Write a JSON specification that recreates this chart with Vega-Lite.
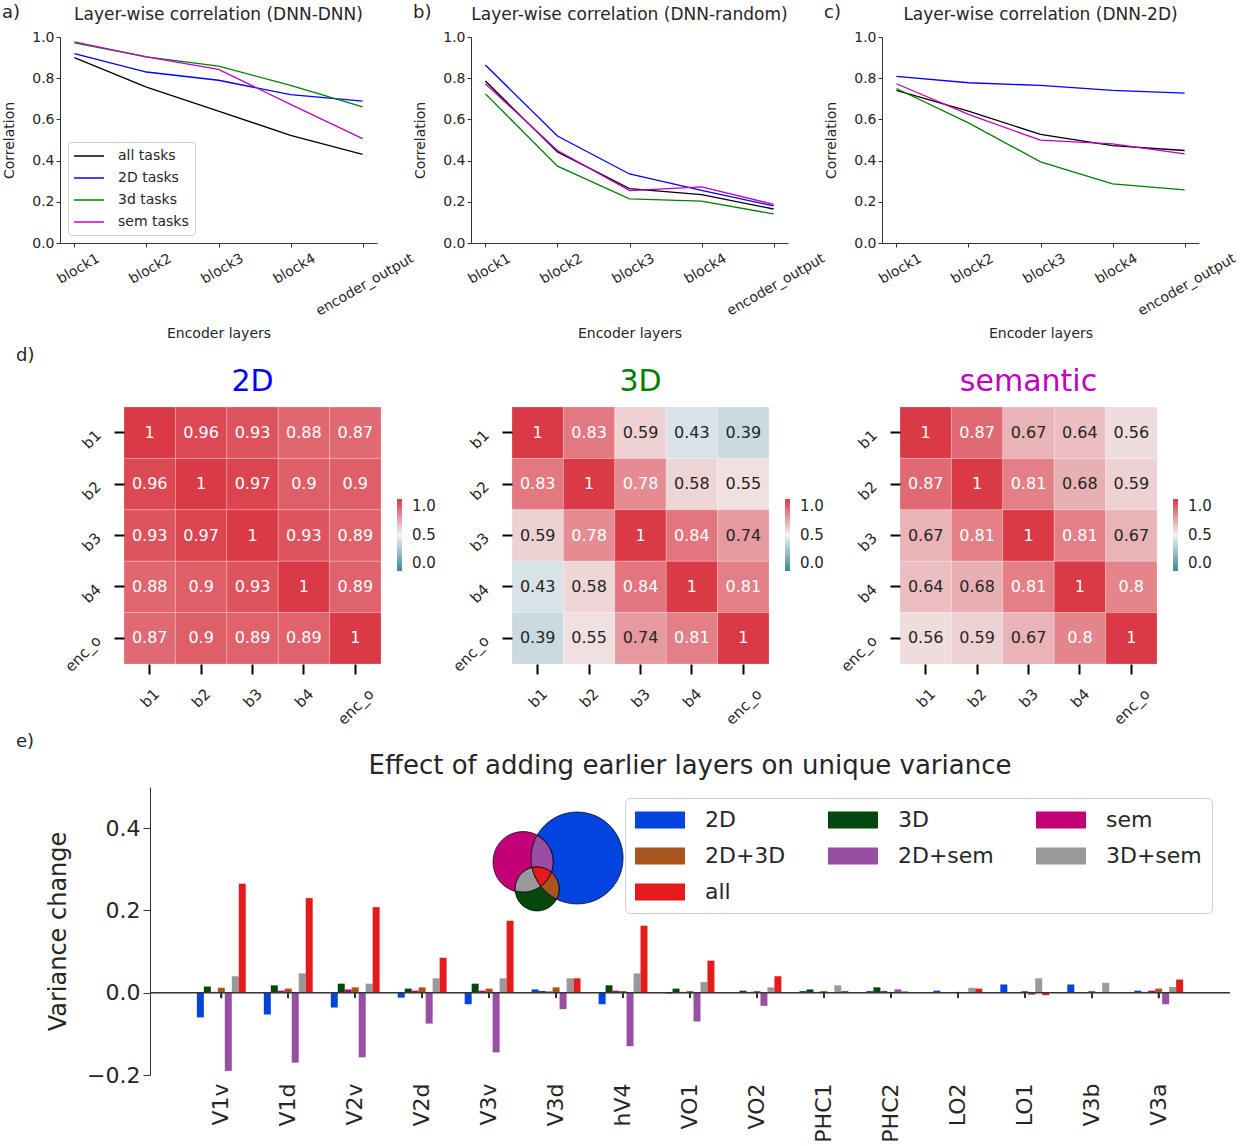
{
"$schema": "https://vega.github.io/schema/vega-lite/v6.json",
"background": "white",
"padding": {"left": 2, "top": 4, "right": 2, "bottom": 2},
"spacing": 5,
"resolve": {"scale": {"color": "independent", "shape": "independent", "fill": "independent"}, "legend": {"color": "independent"}},
"config": {
 "font": "DejaVu Sans",
 "view": {"stroke": null},
 "axis": {"grid": false, "labelColor": "#262626", "titleColor": "#262626", "domainColor": "#333333", "tickColor": "#333333", "titleFontWeight": "normal", "labelFont": "DejaVu Sans", "titleFont": "DejaVu Sans"},
 "title": {"fontWeight": "normal", "color": "#262626", "font": "DejaVu Sans"},
 "legend": {"labelColor": "#262626", "labelFont": "DejaVu Sans"}
},
"datasets": {
 "lineA": [
  {"layer":"block1","series":"all tasks","r":0.90},{"layer":"block2","series":"all tasks","r":0.757},{"layer":"block3","series":"all tasks","r":0.64},{"layer":"block4","series":"all tasks","r":0.523},{"layer":"encoder_output","series":"all tasks","r":0.43},
  {"layer":"block1","series":"2D tasks","r":0.919},{"layer":"block2","series":"2D tasks","r":0.83},{"layer":"block3","series":"2D tasks","r":0.79},{"layer":"block4","series":"2D tasks","r":0.72},{"layer":"encoder_output","series":"2D tasks","r":0.689},
  {"layer":"block1","series":"3d tasks","r":0.972},{"layer":"block2","series":"3d tasks","r":0.903},{"layer":"block3","series":"3d tasks","r":0.859},{"layer":"block4","series":"3d tasks","r":0.765},{"layer":"encoder_output","series":"3d tasks","r":0.661},
  {"layer":"block1","series":"sem tasks","r":0.976},{"layer":"block2","series":"sem tasks","r":0.904},{"layer":"block3","series":"sem tasks","r":0.843},{"layer":"block4","series":"sem tasks","r":0.673},{"layer":"encoder_output","series":"sem tasks","r":0.507}
 ],
 "lineB": [
  {"layer":"block1","series":"all tasks","r":0.786},{"layer":"block2","series":"all tasks","r":0.442},{"layer":"block3","series":"all tasks","r":0.264},{"layer":"block4","series":"all tasks","r":0.235},{"layer":"encoder_output","series":"all tasks","r":0.165},
  {"layer":"block1","series":"2D tasks","r":0.864},{"layer":"block2","series":"2D tasks","r":0.519},{"layer":"block3","series":"2D tasks","r":0.335},{"layer":"block4","series":"2D tasks","r":0.256},{"layer":"encoder_output","series":"2D tasks","r":0.18},
  {"layer":"block1","series":"3d tasks","r":0.724},{"layer":"block2","series":"3d tasks","r":0.373},{"layer":"block3","series":"3d tasks","r":0.214},{"layer":"block4","series":"3d tasks","r":0.203},{"layer":"encoder_output","series":"3d tasks","r":0.141},
  {"layer":"block1","series":"sem tasks","r":0.773},{"layer":"block2","series":"sem tasks","r":0.449},{"layer":"block3","series":"sem tasks","r":0.254},{"layer":"block4","series":"sem tasks","r":0.272},{"layer":"encoder_output","series":"sem tasks","r":0.188}
 ],
 "lineC": [
  {"layer":"block1","series":"all tasks","r":0.741},{"layer":"block2","series":"all tasks","r":0.64},{"layer":"block3","series":"all tasks","r":0.527},{"layer":"block4","series":"all tasks","r":0.473},{"layer":"encoder_output","series":"all tasks","r":0.449},
  {"layer":"block1","series":"2D tasks","r":0.809},{"layer":"block2","series":"2D tasks","r":0.778},{"layer":"block3","series":"2D tasks","r":0.765},{"layer":"block4","series":"2D tasks","r":0.741},{"layer":"encoder_output","series":"2D tasks","r":0.728},
  {"layer":"block1","series":"3d tasks","r":0.75},{"layer":"block2","series":"3d tasks","r":0.583},{"layer":"block3","series":"3d tasks","r":0.394},{"layer":"block4","series":"3d tasks","r":0.287},{"layer":"encoder_output","series":"3d tasks","r":0.258},
  {"layer":"block1","series":"sem tasks","r":0.773},{"layer":"block2","series":"sem tasks","r":0.624},{"layer":"block3","series":"sem tasks","r":0.499},{"layer":"block4","series":"sem tasks","r":0.481},{"layer":"encoder_output","series":"sem tasks","r":0.433}
 ],
 "hm2D": [
  {"r":"b1","c":"b1","v":1},{"r":"b1","c":"b2","v":0.96},{"r":"b1","c":"b3","v":0.93},{"r":"b1","c":"b4","v":0.88},{"r":"b1","c":"enc_o","v":0.87},
  {"r":"b2","c":"b1","v":0.96},{"r":"b2","c":"b2","v":1},{"r":"b2","c":"b3","v":0.97},{"r":"b2","c":"b4","v":0.9},{"r":"b2","c":"enc_o","v":0.9},
  {"r":"b3","c":"b1","v":0.93},{"r":"b3","c":"b2","v":0.97},{"r":"b3","c":"b3","v":1},{"r":"b3","c":"b4","v":0.93},{"r":"b3","c":"enc_o","v":0.89},
  {"r":"b4","c":"b1","v":0.88},{"r":"b4","c":"b2","v":0.9},{"r":"b4","c":"b3","v":0.93},{"r":"b4","c":"b4","v":1},{"r":"b4","c":"enc_o","v":0.89},
  {"r":"enc_o","c":"b1","v":0.87},{"r":"enc_o","c":"b2","v":0.9},{"r":"enc_o","c":"b3","v":0.89},{"r":"enc_o","c":"b4","v":0.89},{"r":"enc_o","c":"enc_o","v":1}
 ],
 "hm3D": [
  {"r":"b1","c":"b1","v":1},{"r":"b1","c":"b2","v":0.83},{"r":"b1","c":"b3","v":0.59},{"r":"b1","c":"b4","v":0.43},{"r":"b1","c":"enc_o","v":0.39},
  {"r":"b2","c":"b1","v":0.83},{"r":"b2","c":"b2","v":1},{"r":"b2","c":"b3","v":0.78},{"r":"b2","c":"b4","v":0.58},{"r":"b2","c":"enc_o","v":0.55},
  {"r":"b3","c":"b1","v":0.59},{"r":"b3","c":"b2","v":0.78},{"r":"b3","c":"b3","v":1},{"r":"b3","c":"b4","v":0.84},{"r":"b3","c":"enc_o","v":0.74},
  {"r":"b4","c":"b1","v":0.43},{"r":"b4","c":"b2","v":0.58},{"r":"b4","c":"b3","v":0.84},{"r":"b4","c":"b4","v":1},{"r":"b4","c":"enc_o","v":0.81},
  {"r":"enc_o","c":"b1","v":0.39},{"r":"enc_o","c":"b2","v":0.55},{"r":"enc_o","c":"b3","v":0.74},{"r":"enc_o","c":"b4","v":0.81},{"r":"enc_o","c":"enc_o","v":1}
 ],
 "hmSem": [
  {"r":"b1","c":"b1","v":1},{"r":"b1","c":"b2","v":0.87},{"r":"b1","c":"b3","v":0.67},{"r":"b1","c":"b4","v":0.64},{"r":"b1","c":"enc_o","v":0.56},
  {"r":"b2","c":"b1","v":0.87},{"r":"b2","c":"b2","v":1},{"r":"b2","c":"b3","v":0.81},{"r":"b2","c":"b4","v":0.68},{"r":"b2","c":"enc_o","v":0.59},
  {"r":"b3","c":"b1","v":0.67},{"r":"b3","c":"b2","v":0.81},{"r":"b3","c":"b3","v":1},{"r":"b3","c":"b4","v":0.81},{"r":"b3","c":"enc_o","v":0.67},
  {"r":"b4","c":"b1","v":0.64},{"r":"b4","c":"b2","v":0.68},{"r":"b4","c":"b3","v":0.81},{"r":"b4","c":"b4","v":1},{"r":"b4","c":"enc_o","v":0.8},
  {"r":"enc_o","c":"b1","v":0.56},{"r":"enc_o","c":"b2","v":0.59},{"r":"enc_o","c":"b3","v":0.67},{"r":"enc_o","c":"b4","v":0.8},{"r":"enc_o","c":"enc_o","v":1}
 ],
 "bars": [
  {"region":"V1v","type":"2D","v":-0.06},{"region":"V1v","type":"2D+3D","v":0.012},{"region":"V1v","type":"3D+sem","v":0.04},{"region":"V1v","type":"3D","v":0.015},{"region":"V1v","type":"2D+sem","v":-0.19},{"region":"V1v","type":"all","v":0.265},{"region":"V1v","type":"sem","v":0.002},
  {"region":"V1d","type":"2D","v":-0.053},{"region":"V1d","type":"2D+3D","v":0.01},{"region":"V1d","type":"3D+sem","v":0.047},{"region":"V1d","type":"3D","v":0.018},{"region":"V1d","type":"2D+sem","v":-0.17},{"region":"V1d","type":"all","v":0.23},{"region":"V1d","type":"sem","v":0.005},
  {"region":"V2v","type":"2D","v":-0.036},{"region":"V2v","type":"2D+3D","v":0.013},{"region":"V2v","type":"3D+sem","v":0.022},{"region":"V2v","type":"3D","v":0.022},{"region":"V2v","type":"2D+sem","v":-0.157},{"region":"V2v","type":"all","v":0.208},{"region":"V2v","type":"sem","v":0.008},
  {"region":"V2d","type":"2D","v":-0.012},{"region":"V2d","type":"2D+3D","v":0.013},{"region":"V2d","type":"3D+sem","v":0.035},{"region":"V2d","type":"3D","v":0.01},{"region":"V2d","type":"2D+sem","v":-0.075},{"region":"V2d","type":"all","v":0.085},{"region":"V2d","type":"sem","v":0.005},
  {"region":"V3v","type":"2D","v":-0.028},{"region":"V3v","type":"2D+3D","v":0.01},{"region":"V3v","type":"3D+sem","v":0.035},{"region":"V3v","type":"3D","v":0.022},{"region":"V3v","type":"2D+sem","v":-0.145},{"region":"V3v","type":"all","v":0.175},{"region":"V3v","type":"sem","v":0.005},
  {"region":"V3d","type":"2D","v":0.008},{"region":"V3d","type":"2D+3D","v":0.013},{"region":"V3d","type":"3D+sem","v":0.035},{"region":"V3d","type":"3D","v":0.004},{"region":"V3d","type":"2D+sem","v":-0.04},{"region":"V3d","type":"all","v":0.035},{"region":"V3d","type":"sem","v":0.003},
  {"region":"hV4","type":"2D","v":-0.028},{"region":"hV4","type":"2D+3D","v":0.004},{"region":"hV4","type":"3D+sem","v":0.047},{"region":"hV4","type":"3D","v":0.018},{"region":"hV4","type":"2D+sem","v":-0.13},{"region":"hV4","type":"all","v":0.163},{"region":"hV4","type":"sem","v":0.005},
  {"region":"VO1","type":"2D","v":-0.002},{"region":"VO1","type":"2D+3D","v":0.004},{"region":"VO1","type":"3D+sem","v":0.026},{"region":"VO1","type":"3D","v":0.01},{"region":"VO1","type":"2D+sem","v":-0.07},{"region":"VO1","type":"all","v":0.078},{"region":"VO1","type":"sem","v":0.002},
  {"region":"VO2","type":"2D","v":0.0},{"region":"VO2","type":"2D+3D","v":0.004},{"region":"VO2","type":"3D+sem","v":0.013},{"region":"VO2","type":"3D","v":0.005},{"region":"VO2","type":"2D+sem","v":-0.032},{"region":"VO2","type":"all","v":0.04},{"region":"VO2","type":"sem","v":0.002},
  {"region":"PHC1","type":"2D","v":0.004},{"region":"PHC1","type":"2D+3D","v":0.004},{"region":"PHC1","type":"3D+sem","v":0.018},{"region":"PHC1","type":"3D","v":0.008},{"region":"PHC1","type":"2D+sem","v":0.001},{"region":"PHC1","type":"all","v":0.004},{"region":"PHC1","type":"sem","v":0.002},
  {"region":"PHC2","type":"2D","v":0.004},{"region":"PHC2","type":"2D+3D","v":0.001},{"region":"PHC2","type":"3D+sem","v":0.004},{"region":"PHC2","type":"3D","v":0.013},{"region":"PHC2","type":"2D+sem","v":0.008},{"region":"PHC2","type":"all","v":0.001},{"region":"PHC2","type":"sem","v":0.004},
  {"region":"LO2","type":"2D","v":0.005},{"region":"LO2","type":"2D+3D","v":0.002},{"region":"LO2","type":"3D+sem","v":0.012},{"region":"LO2","type":"3D","v":0.001},{"region":"LO2","type":"2D+sem","v":0.001},{"region":"LO2","type":"all","v":0.01},{"region":"LO2","type":"sem","v":0.001},
  {"region":"LO1","type":"2D","v":0.02},{"region":"LO1","type":"2D+3D","v":0.004},{"region":"LO1","type":"3D+sem","v":0.035},{"region":"LO1","type":"3D","v":0.001},{"region":"LO1","type":"2D+sem","v":-0.005},{"region":"LO1","type":"all","v":-0.006},{"region":"LO1","type":"sem","v":0.001},
  {"region":"V3b","type":"2D","v":0.02},{"region":"V3b","type":"2D+3D","v":0.004},{"region":"V3b","type":"3D+sem","v":0.024},{"region":"V3b","type":"3D","v":0.001},{"region":"V3b","type":"2D+sem","v":0.001},{"region":"V3b","type":"all","v":0.001},{"region":"V3b","type":"sem","v":0.0},
  {"region":"V3a","type":"2D","v":0.005},{"region":"V3a","type":"2D+3D","v":0.01},{"region":"V3a","type":"3D+sem","v":0.014},{"region":"V3a","type":"3D","v":0.002},{"region":"V3a","type":"2D+sem","v":-0.028},{"region":"V3a","type":"all","v":0.032},{"region":"V3a","type":"sem","v":0.005}
 ],
 "venn": [{"type":"2D"},{"type":"sem"},{"type":"3D"},{"type":"2D+sem"},{"type":"3D+sem"},{"type":"2D+3D"},{"type":"all"}],
 "empty": []
},
"vconcat": [
 {
  "hconcat": [
   {
    "title": {"text": "a)", "anchor": "start", "frame": "bounds", "fontSize": 18, "offset": 0, "dy": 16},
    "resolve": {"scale": {"color": "independent"}, "legend": {"color": "independent"}},
    "vconcat": [{
     "width": 317, "height": 206,
     "title": {"text": "Layer-wise correlation (DNN-DNN)", "fontSize": 17, "frame": "group", "offset": 6},
     "data": {"name": "lineA"},
     "mark": {"type": "line", "strokeWidth": 1.3},
     "encoding": {
      "x": {"field": "layer", "type": "ordinal", "sort": ["block1","block2","block3","block4","encoder_output"], "scale": {"type": "point", "padding": 0.2}, "title": "Encoder layers",
            "axis": {"labelAngle": -30, "labelAlign": "right", "labelBaseline": "top", "labelFontSize": 14, "titleFontSize": 14, "tickSize": 4, "labelPadding": 4, "titlePadding": 8, "labelOffset": {"condition": {"test": "datum.value == 'encoder_output'", "value": 46}, "value": 20}}},
      "y": {"field": "r", "type": "quantitative", "scale": {"domain": [0, 1]}, "title": "Correlation",
            "axis": {"values": [0,0.2,0.4,0.6,0.8,1], "format": ".1f", "labelFontSize": 14, "titleFontSize": 14, "tickSize": 4, "minExtent": 40, "titlePadding": 4}},
      "color": {"field": "series", "type": "nominal", "scale": {"domain": ["all tasks","2D tasks","3d tasks","sem tasks"], "range": ["#000000","#0000ff","#008000","#bf00bf"]},
            "legend": {"orient": "none", "legendX": 8, "legendY": 105, "title": null, "labelFontSize": 14, "symbolType": "M-1.14,0L3.14,0", "symbolSize": 196, "symbolStrokeWidth": 1.5, "padding": 6, "rowPadding": 7, "labelOffset": 28, "strokeColor": "#cccccc", "fillColor": "#ffffff", "cornerRadius": 3}}
     }
    }]
   },
   {
    "title": {"text": "b)", "anchor": "start", "frame": "bounds", "fontSize": 18, "offset": 0, "dy": 16},
    "resolve": {"scale": {"color": "independent"}, "legend": {"color": "independent"}},
    "vconcat": [{
     "width": 317, "height": 206,
     "title": {"text": "Layer-wise correlation (DNN-random)", "fontSize": 17, "frame": "group", "offset": 6},
     "data": {"name": "lineB"},
     "mark": {"type": "line", "strokeWidth": 1.3},
     "encoding": {
      "x": {"field": "layer", "type": "ordinal", "sort": ["block1","block2","block3","block4","encoder_output"], "scale": {"type": "point", "padding": 0.2}, "title": "Encoder layers",
            "axis": {"labelAngle": -30, "labelAlign": "right", "labelBaseline": "top", "labelFontSize": 14, "titleFontSize": 14, "tickSize": 4, "labelPadding": 4, "titlePadding": 8, "labelOffset": {"condition": {"test": "datum.value == 'encoder_output'", "value": 46}, "value": 20}}},
      "y": {"field": "r", "type": "quantitative", "scale": {"domain": [0, 1]}, "title": "Correlation",
            "axis": {"values": [0,0.2,0.4,0.6,0.8,1], "format": ".1f", "labelFontSize": 14, "titleFontSize": 14, "tickSize": 4, "minExtent": 40, "titlePadding": 4}},
      "color": {"field": "series", "type": "nominal", "scale": {"domain": ["all tasks","2D tasks","3d tasks","sem tasks"], "range": ["#000000","#0000ff","#008000","#bf00bf"]}, "legend": null}
     }
    }]
   },
   {
    "title": {"text": "c)", "anchor": "start", "frame": "bounds", "fontSize": 18, "offset": 0, "dy": 16},
    "resolve": {"scale": {"color": "independent"}, "legend": {"color": "independent"}},
    "vconcat": [{
     "width": 317, "height": 206,
     "title": {"text": "Layer-wise correlation (DNN-2D)", "fontSize": 17, "frame": "group", "offset": 6},
     "data": {"name": "lineC"},
     "mark": {"type": "line", "strokeWidth": 1.3},
     "encoding": {
      "x": {"field": "layer", "type": "ordinal", "sort": ["block1","block2","block3","block4","encoder_output"], "scale": {"type": "point", "padding": 0.2}, "title": "Encoder layers",
            "axis": {"labelAngle": -30, "labelAlign": "right", "labelBaseline": "top", "labelFontSize": 14, "titleFontSize": 14, "tickSize": 4, "labelPadding": 4, "titlePadding": 8, "labelOffset": {"condition": {"test": "datum.value == 'encoder_output'", "value": 46}, "value": 20}}},
      "y": {"field": "r", "type": "quantitative", "scale": {"domain": [0, 1]}, "title": "Correlation",
            "axis": {"values": [0,0.2,0.4,0.6,0.8,1], "format": ".1f", "labelFontSize": 14, "titleFontSize": 14, "tickSize": 4, "minExtent": 40, "titlePadding": 4}},
      "color": {"field": "series", "type": "nominal", "scale": {"domain": ["all tasks","2D tasks","3d tasks","sem tasks"], "range": ["#000000","#0000ff","#008000","#bf00bf"]}, "legend": null}
     }
    }]
   }
  ],
  "spacing": -3,
  "resolve": {"scale": {"color": "independent"}, "legend": {"color": "independent"}}
 },
 {
  "title": {"text": "d)", "anchor": "start", "frame": "bounds", "fontSize": 18, "dx": -44, "offset": 2},
  "spacing": 1,
  "resolve": {"scale": {"color": "independent"}, "legend": {"color": "independent"}},
  "hconcat": [
   {"width": 1, "height": 1, "data": {"name": "empty"}, "mark": "point"},
   {
    "spacing": 14,
    "resolve": {"scale": {"color": "independent"}, "legend": {"color": "independent"}},
    "hconcat": [
     {
      "width": 257, "height": 257,
      "title": {"text": "2D", "color": "#0000ff", "fontSize": 30, "frame": "group", "offset": 10},
      "data": {"name": "hm2D"},
      "encoding": {
       "x": {"field": "c", "type": "ordinal", "sort": ["b1","b2","b3","b4","enc_o"], "scale": {"paddingInner": 0, "paddingOuter": 0}, "title": null,
             "axis": {"domain": false, "tickSize": 10, "tickWidth": 2, "tickColor": "#000000", "labelAngle": -45, "labelAlign": "right", "labelBaseline": "top", "labelFontSize": 15, "labelPadding": 12, "labelOffset": {"condition": {"test": "datum.value == 'enc_o'", "value": 11}, "value": 2}}},
       "y": {"field": "r", "type": "ordinal", "sort": ["b1","b2","b3","b4","enc_o"], "scale": {"paddingInner": 0, "paddingOuter": 0}, "title": null,
             "axis": {"domain": false, "tickSize": 10, "tickWidth": 2, "tickColor": "#000000", "labelAngle": -45, "labelAlign": "right", "labelBaseline": "middle", "labelFontSize": 15, "labelPadding": 16}}
      },
      "layer": [
       {"mark": {"type": "rect", "stroke": "#ffffff", "strokeWidth": 0.4, "strokeOpacity": 0.5},
        "encoding": {"color": {"field": "v", "type": "quantitative", "scale": {"domain": [0, 0.5, 1], "range": ["#3b86a0", "#f2f2f2", "#da3a46"], "interpolate": "rgb"},
          "legend": {"orient": "none", "legendX": 273, "legendY": 92, "title": null, "gradientLength": 72, "gradientThickness": 5, "values": [0, 0.5, 1], "format": ".1f", "labelFontSize": 15, "labelOffset": 10, "direction": "vertical", "gradientStrokeWidth": 0}}}},
       {"mark": {"type": "text", "fontSize": 16},
        "encoding": {"text": {"field": "v", "type": "quantitative", "format": ".2~g"}, "color": {"condition": {"test": "datum.v >= 0.75", "value": "#ffffff"}, "value": "#262626"}}}
      ]
     },
     {
      "width": 257, "height": 257,
      "title": {"text": "3D", "color": "#008000", "fontSize": 30, "frame": "group", "offset": 10},
      "data": {"name": "hm3D"},
      "encoding": {
       "x": {"field": "c", "type": "ordinal", "sort": ["b1","b2","b3","b4","enc_o"], "scale": {"paddingInner": 0, "paddingOuter": 0}, "title": null,
             "axis": {"domain": false, "tickSize": 10, "tickWidth": 2, "tickColor": "#000000", "labelAngle": -45, "labelAlign": "right", "labelBaseline": "top", "labelFontSize": 15, "labelPadding": 12, "labelOffset": {"condition": {"test": "datum.value == 'enc_o'", "value": 11}, "value": 2}}},
       "y": {"field": "r", "type": "ordinal", "sort": ["b1","b2","b3","b4","enc_o"], "scale": {"paddingInner": 0, "paddingOuter": 0}, "title": null,
             "axis": {"domain": false, "tickSize": 10, "tickWidth": 2, "tickColor": "#000000", "labelAngle": -45, "labelAlign": "right", "labelBaseline": "middle", "labelFontSize": 15, "labelPadding": 16}}
      },
      "layer": [
       {"mark": {"type": "rect", "stroke": "#ffffff", "strokeWidth": 0.4, "strokeOpacity": 0.5},
        "encoding": {"color": {"field": "v", "type": "quantitative", "scale": {"domain": [0, 0.5, 1], "range": ["#3b86a0", "#f2f2f2", "#da3a46"], "interpolate": "rgb"},
          "legend": {"orient": "none", "legendX": 273, "legendY": 92, "title": null, "gradientLength": 72, "gradientThickness": 5, "values": [0, 0.5, 1], "format": ".1f", "labelFontSize": 15, "labelOffset": 10, "direction": "vertical", "gradientStrokeWidth": 0}}}},
       {"mark": {"type": "text", "fontSize": 16},
        "encoding": {"text": {"field": "v", "type": "quantitative", "format": ".2~g"}, "color": {"condition": {"test": "datum.v >= 0.75", "value": "#ffffff"}, "value": "#262626"}}}
      ]
     },
     {
      "width": 257, "height": 257,
      "title": {"text": "semantic", "color": "#bf00bf", "fontSize": 30, "frame": "group", "offset": 10},
      "data": {"name": "hmSem"},
      "encoding": {
       "x": {"field": "c", "type": "ordinal", "sort": ["b1","b2","b3","b4","enc_o"], "scale": {"paddingInner": 0, "paddingOuter": 0}, "title": null,
             "axis": {"domain": false, "tickSize": 10, "tickWidth": 2, "tickColor": "#000000", "labelAngle": -45, "labelAlign": "right", "labelBaseline": "top", "labelFontSize": 15, "labelPadding": 12, "labelOffset": {"condition": {"test": "datum.value == 'enc_o'", "value": 11}, "value": 2}}},
       "y": {"field": "r", "type": "ordinal", "sort": ["b1","b2","b3","b4","enc_o"], "scale": {"paddingInner": 0, "paddingOuter": 0}, "title": null,
             "axis": {"domain": false, "tickSize": 10, "tickWidth": 2, "tickColor": "#000000", "labelAngle": -45, "labelAlign": "right", "labelBaseline": "middle", "labelFontSize": 15, "labelPadding": 16}}
      },
      "layer": [
       {"mark": {"type": "rect", "stroke": "#ffffff", "strokeWidth": 0.4, "strokeOpacity": 0.5},
        "encoding": {"color": {"field": "v", "type": "quantitative", "scale": {"domain": [0, 0.5, 1], "range": ["#3b86a0", "#f2f2f2", "#da3a46"], "interpolate": "rgb"},
          "legend": {"orient": "none", "legendX": 273, "legendY": 92, "title": null, "gradientLength": 72, "gradientThickness": 5, "values": [0, 0.5, 1], "format": ".1f", "labelFontSize": 15, "labelOffset": 10, "direction": "vertical", "gradientStrokeWidth": 0}}}},
       {"mark": {"type": "text", "fontSize": 16},
        "encoding": {"text": {"field": "v", "type": "quantitative", "format": ".2~g"}, "color": {"condition": {"test": "datum.v >= 0.75", "value": "#ffffff"}, "value": "#262626"}}}
      ]
     }
    ]
   }
  ]
 },
 {
  "title": {"text": "e)", "anchor": "start", "frame": "bounds", "fontSize": 18, "dx": -30, "offset": 2},
  "spacing": -15,
  "resolve": {"scale": {"color": "independent", "shape": "independent", "fill": "independent"}, "legend": {"color": "independent"}},
  "hconcat": [
   {"width": 1, "height": 1, "data": {"name": "empty"}, "mark": "point"},
   {
   "width": 1080, "height": 288,
   "title": {"text": "Effect of adding earlier layers on unique variance", "fontSize": 26, "frame": "group", "offset": 8},
   "layer": [
    {
     "data": {"name": "bars"},
     "mark": {"type": "bar"},
     "encoding": {
      "x": {"field": "region", "type": "nominal", "sort": ["V1v","V1d","V2v","V2d","V3v","V3d","hV4","VO1","VO2","PHC1","PHC2","LO2","LO1","V3b","V3a"], "scale": {"paddingInner": 0.27, "paddingOuter": 0.7}, "title": null,
            "axis": {"domain": false, "ticks": false, "labelAngle": -90, "labelAlign": "right", "labelBaseline": "middle", "labelFontSize": 22, "labelPadding": 8}},
      "xOffset": {"field": "type", "type": "nominal", "sort": ["2D","3D","sem","2D+3D","2D+sem","3D+sem","all"], "scale": {"paddingInner": 0}},
      "y": {"field": "v", "type": "quantitative", "scale": {"domain": [-0.2, 0.5]}, "title": "Variance change",
            "axis": {"values": [-0.2, 0, 0.2, 0.4], "format": ".1f", "labelFontSize": 22, "titleFontSize": 24, "tickSize": 7, "labelPadding": 3, "minExtent": 78, "titlePadding": 2}},
      "color": {"field": "type", "type": "nominal", "scale": {"domain": ["2D","2D+3D","3D+sem","3D","2D+sem","all","sem"], "range": ["#0343df","#a9561e","#999999","#05480d","#984ea3","#e41a1c","#c20078"]},
            "legend": {"orient": "none", "legendX": 475, "legendY": 11, "columns": 3, "title": null, "values": ["2D","2D+3D","3D+sem","3D","2D+sem","all","sem"], "labelFontSize": 22, "symbolType": "M-1,-0.7L3.17,-0.7L3.17,0.7L-1,0.7Z", "symbolSize": 576, "symbolStrokeWidth": 0, "padding": 10, "rowPadding": 13, "columnPadding": 42, "labelOffset": 46, "strokeColor": "#cccccc", "fillColor": "#ffffff", "cornerRadius": 5}}
     }
    },
    {
     "data": {"values": [{}]},
     "mark": {"type": "rule", "color": "#333333", "strokeWidth": 1.5},
     "encoding": {"y": {"datum": 0}}
    },
    {
     "data": {"name": "bars"},
     "mark": {"type": "rule", "color": "#333333", "strokeWidth": 1.5},
     "encoding": {
      "x": {"field": "region", "type": "nominal", "sort": ["V1v","V1d","V2v","V2d","V3v","V3d","hV4","VO1","VO2","PHC1","PHC2","LO2","LO1","V3b","V3a"], "bandPosition": 0.5},
      "y": {"datum": 0},
      "y2": {"datum": -0.013}
     }
    },
    {
     "data": {"name": "venn"},
     "mark": {"type": "point", "filled": true, "opacity": 1, "size": 19600, "stroke": "#000000", "strokeWidth": 0.7},
     "encoding": {
      "x": {"datum": "V3d"},
      "y": {"datum": 0.325},
      "fill": {"field": "type", "type": "nominal", "legend": null, "scale": {"domain": ["2D","2D+3D","3D+sem","3D","2D+sem","all","sem"], "range": ["#0343df","#a9561e","#999999","#05480d","#984ea3","#e41a1c","#c20078"]}},
      "shape": {"field": "type", "type": "nominal", "legend": null,
        "scale": {"domain": ["2D","sem","3D","2D+sem","3D+sem","2D+3D","all"],
          "range": [
           "M-0.3571,-0.0143A0.6571,0.6571,0,1,0,0.9571,-0.0143A0.6571,0.6571,0,1,0,-0.3571,-0.0143Z",
           "M-0.9,0.0429A0.4286,0.4286,0,1,0,-0.0429,0.0429A0.4286,0.4286,0,1,0,-0.9,0.0429Z",
           "M-0.5857,0.4286A0.3143,0.3143,0,1,0,0.0429,0.4286A0.3143,0.3143,0,1,0,-0.5857,0.4286Z",
           "M-0.2724,-0.3367A0.4286,0.4286,0,0,1,-0.0684,0.1889A0.3143,0.3143,0,0,0,-0.3427,0.1226A0.6571,0.6571,0,0,1,-0.2724,-0.3367Z",
           "M-0.5844,0.4563A0.3143,0.3143,0,0,1,-0.3427,0.1226A0.6571,0.6571,0,0,0,-0.2187,0.389A0.4286,0.4286,0,0,1,-0.5844,0.4563Z",
           "M-0.0684,0.1889A0.3143,0.3143,0,0,1,0.007,0.574A0.6571,0.6571,0,0,1,-0.2187,0.389A0.4286,0.4286,0,0,0,-0.0684,0.1889Z",
           "M-0.0684,0.1889A0.4286,0.4286,0,0,1,-0.2187,0.389A0.6571,0.6571,0,0,1,-0.3427,0.1226A0.3143,0.3143,0,0,1,-0.0684,0.1889Z"
          ]}}
     }
    }
   ]
  }]
 }
]
}
